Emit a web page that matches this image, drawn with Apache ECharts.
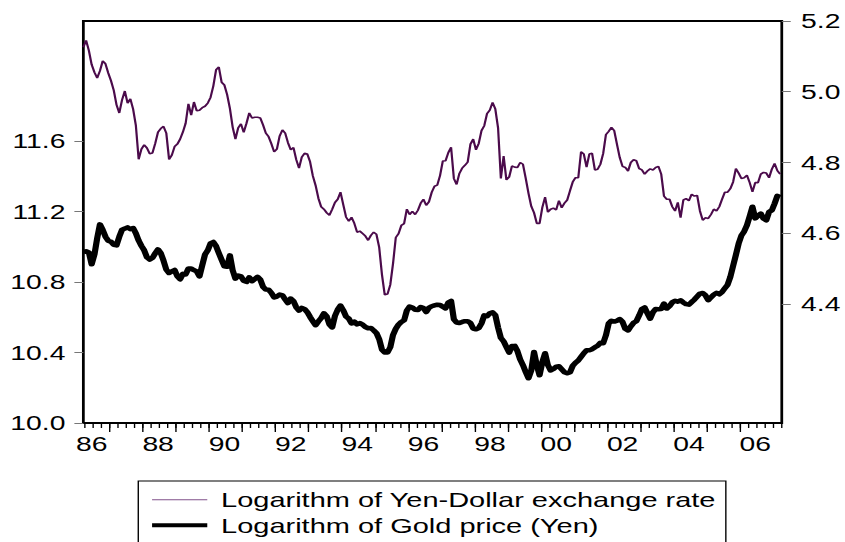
<!DOCTYPE html>
<html>
<head>
<meta charset="utf-8">
<script src="https://cdn.jsdelivr.net/npm/echarts@6/dist/echarts.min.js"></script>
<style>
  html, body { margin: 0; padding: 0; background: #fff; overflow: hidden; }
  /* the original picture is stretched sideways, so the chart is drawn narrow and widened */
  #chart { width: 612.3px; height: 542px; transform: scaleX(1.38); transform-origin: 0 0; }
</style>
</head>
<body>
<div id="chart"></div>
<script>
// monthly observations, first one is March 1986
var startYear = 1986;
var startMonth = 3;

var yenName = "Logarithm of Yen-Dollar exchange rate";
var goldName = "Logarithm of Gold price (Yen)";

var yenLog = [
  5.126, 5.145, 5.116, 5.077, 5.055, 5.039, 5.059, 5.087, 5.079, 5.053,
  5.031, 5.004, 4.963, 4.940, 4.977, 5.002, 4.968, 4.980, 4.951, 4.904,
  4.809, 4.838, 4.850, 4.841, 4.825, 4.827, 4.854, 4.886, 4.896, 4.902,
  4.883, 4.809, 4.821, 4.845, 4.852, 4.866, 4.886, 4.911, 4.966, 4.934,
  4.971, 4.946, 4.948, 4.955, 4.959, 4.968, 4.984, 5.016, 5.062, 5.070,
  5.027, 5.019, 4.992, 4.953, 4.900, 4.866, 4.898, 4.909, 4.885, 4.911,
  4.940, 4.926, 4.928, 4.928, 4.926, 4.906, 4.883, 4.873, 4.853, 4.830,
  4.838, 4.875, 4.892, 4.883, 4.856, 4.836, 4.842, 4.808, 4.784, 4.815,
  4.826, 4.824, 4.802, 4.762, 4.735, 4.699, 4.675, 4.668, 4.658, 4.651,
  4.668, 4.687, 4.696, 4.716, 4.681, 4.646, 4.634, 4.645, 4.628, 4.603,
  4.606, 4.599, 4.592, 4.580, 4.594, 4.603, 4.597, 4.560, 4.483, 4.426,
  4.428, 4.454, 4.514, 4.588, 4.599, 4.622, 4.627, 4.668, 4.653, 4.662,
  4.653, 4.665, 4.685, 4.696, 4.679, 4.689, 4.716, 4.733, 4.736, 4.763,
  4.804, 4.805, 4.828, 4.843, 4.755, 4.738, 4.769, 4.784, 4.792, 4.801,
  4.852, 4.866, 4.836, 4.854, 4.890, 4.904, 4.938, 4.948, 4.970, 4.951,
  4.897, 4.755, 4.818, 4.751, 4.759, 4.790, 4.787, 4.786, 4.800, 4.795,
  4.755, 4.713, 4.676, 4.658, 4.628, 4.628, 4.673, 4.702, 4.660, 4.668,
  4.671, 4.666, 4.692, 4.672, 4.685, 4.694, 4.720, 4.745, 4.757, 4.757,
  4.830, 4.824, 4.787, 4.824, 4.826, 4.779, 4.781, 4.795, 4.825, 4.879,
  4.888, 4.899, 4.890, 4.851, 4.814, 4.789, 4.786, 4.776, 4.800, 4.808,
  4.805, 4.783, 4.779, 4.767, 4.776, 4.782, 4.779, 4.786, 4.789, 4.767,
  4.705, 4.696, 4.696, 4.675, 4.663, 4.687, 4.644, 4.694, 4.698, 4.692,
  4.710, 4.705, 4.707, 4.663, 4.637, 4.644, 4.642, 4.653, 4.668, 4.663,
  4.675, 4.696, 4.716, 4.716, 4.726, 4.745, 4.783, 4.770, 4.755, 4.757,
  4.764, 4.743, 4.717, 4.743, 4.743, 4.767, 4.772, 4.770, 4.757, 4.781,
  4.797, 4.777, 4.767
];

var goldLog = [
  10.969, 10.975, 10.969, 10.901, 10.956, 11.049, 11.128, 11.097, 11.058, 11.035,
  11.029, 11.012, 11.009, 11.058, 11.098, 11.104, 11.111, 11.101, 11.107, 11.077,
  11.036, 11.006, 10.981, 10.941, 10.928, 10.938, 10.964, 10.986, 10.965, 10.922,
  10.871, 10.852, 10.861, 10.869, 10.833, 10.816, 10.847, 10.844, 10.877, 10.877,
  10.868, 10.861, 10.833, 10.896, 10.957, 10.981, 11.020, 11.028, 11.005, 10.965,
  10.927, 10.890, 10.887, 10.952, 10.867, 10.820, 10.838, 10.833, 10.808, 10.801,
  10.827, 10.805, 10.818, 10.830, 10.814, 10.773, 10.758, 10.757, 10.739, 10.713,
  10.718, 10.730, 10.725, 10.702, 10.681, 10.707, 10.692, 10.657, 10.638, 10.654,
  10.647, 10.629, 10.602, 10.578, 10.555, 10.577, 10.596, 10.623, 10.606, 10.560,
  10.543, 10.608, 10.644, 10.667, 10.640, 10.605, 10.593, 10.565, 10.576, 10.560,
  10.567, 10.559, 10.545, 10.538, 10.539, 10.526, 10.511, 10.476, 10.417, 10.401,
  10.400, 10.430, 10.500, 10.535, 10.559, 10.574, 10.583, 10.639, 10.661, 10.656,
  10.643, 10.642, 10.659, 10.653, 10.630, 10.654, 10.663, 10.668, 10.672, 10.670,
  10.660, 10.651, 10.684, 10.693, 10.589, 10.571, 10.568, 10.574, 10.578, 10.578,
  10.568, 10.536, 10.532, 10.539, 10.566, 10.611, 10.606, 10.623, 10.628, 10.613,
  10.542, 10.483, 10.464, 10.432, 10.400, 10.437, 10.438, 10.408, 10.360, 10.328,
  10.289, 10.254, 10.298, 10.403, 10.328, 10.271, 10.346, 10.396, 10.329, 10.299,
  10.307, 10.320, 10.322, 10.305, 10.288, 10.282, 10.288, 10.325, 10.342, 10.355,
  10.375, 10.396, 10.413, 10.413, 10.419, 10.430, 10.439, 10.455, 10.453, 10.498,
  10.566, 10.581, 10.576, 10.581, 10.590, 10.574, 10.535, 10.526, 10.549, 10.569,
  10.578, 10.610, 10.647, 10.656, 10.623, 10.593, 10.629, 10.647, 10.646, 10.647,
  10.678, 10.650, 10.664, 10.685, 10.694, 10.689, 10.697, 10.684, 10.675, 10.672,
  10.687, 10.701, 10.718, 10.735, 10.738, 10.725, 10.697, 10.714, 10.729, 10.739,
  10.731, 10.744, 10.765, 10.785, 10.830, 10.892, 10.954, 11.019, 11.065, 11.088,
  11.123, 11.174, 11.228, 11.162, 11.178, 11.189, 11.161, 11.151, 11.198, 11.208,
  11.246, 11.290, 11.283
];

var goldTicks = [10.0, 10.4, 10.8, 11.2, 11.6];
var yenTicks = [4.4, 4.6, 4.8, 5.0, 5.2];
var labelYears = [1986, 1988, 1990, 1992, 1994, 1996, 1998, 2000, 2002, 2004, 2006];
var tickYears = [1987, 1988, 1989, 1990, 1991, 1992, 1993, 1994, 1995, 1996,
  1997, 1998, 1999, 2000, 2001, 2002, 2003, 2004, 2005, 2006];

var font = "Liberation Sans";
var xMin = startYear + (startMonth - 1) / 12;
var xMax = xMin + 252.6 / 12;

function toDated(values) {
  return values.map(function (v, i) {
    return [xMin + i / 12, v];
  });
}

// year boundaries sit half a month before each January point
var majorTicks = tickYears.map(function (y) { return y - 1 / 24; });
var minorTicks = [];
for (var q = 1986 - 1 / 24 + 0.25; q < xMax; q += 0.25) minorTicks.push(q);
var labelPos = labelYears.map(function (y) { return y + 0.42; });

var myChart = echarts.init(document.getElementById("chart"), null, { renderer: "svg" });

var option = {
  animation: false,
  backgroundColor: "#fff",
  grid: {
    left: 60.4,
    right: 43.5,
    top: 21,
    bottom: 119,
    show: true,
    borderColor: "#000",
    borderWidth: 2,
    backgroundColor: "#fff"
  },
  legend: {
    orient: "vertical",
    left: 100.2,
    top: 481,
    height: 90,
    padding: [6, 7, 12, 10],
    itemGap: 0,
    itemWidth: 40,
    itemHeight: 14,
    symbolKeepAspect: true,
    borderColor: "#000",
    borderWidth: 1,
    backgroundColor: "#fff",
    textStyle: {
      fontFamily: font,
      fontSize: 21,
      color: "#000",
      lineHeight: 25.5,
      padding: [0, 0, 0, 5]
    },
    data: [
      { name: yenName, icon: "path://M0,0H40V1.2H0Z", itemStyle: { color: "#80508a" } },
      { name: goldName, icon: "path://M0,0H40V4H0Z", itemStyle: { color: "#000" } }
    ]
  },
  xAxis: [
    {
      type: "value",
      min: xMin,
      max: xMax,
      position: "bottom",
      axisLine: { show: false },
      splitLine: { show: false },
      axisTick: {
        show: true,
        customValues: majorTicks,
        length: 9,
        lineStyle: { color: "#000", width: 1 }
      },
      axisLabel: {
        customValues: labelPos,
        margin: 10,
        fontFamily: font,
        fontSize: 20.5,
        color: "#000",
        formatter: function (v) {
          return String(Math.floor(v)).slice(2);
        }
      }
    },
    {
      type: "value",
      min: xMin,
      max: xMax,
      position: "bottom",
      axisLine: { show: false },
      splitLine: { show: false },
      axisLabel: { show: false },
      axisTick: {
        show: true,
        customValues: minorTicks,
        length: 5,
        lineStyle: { color: "#000", width: 1 }
      }
    }
  ],
  yAxis: [
    {
      type: "value",
      position: "left",
      min: 10.0,
      max: 12.283,
      axisLine: { show: false },
      splitLine: { show: false },
      axisTick: {
        show: true,
        customValues: goldTicks,
        length: 6.5,
        lineStyle: { color: "#777", width: 1 }
      },
      axisLabel: {
        customValues: goldTicks,
        margin: 13,
        fontFamily: font,
        fontSize: 20.5,
        color: "#000",
        formatter: function (v) { return v.toFixed(1); }
      }
    },
    {
      type: "value",
      position: "right",
      min: 4.0636,
      max: 5.2,
      axisLine: { show: false },
      splitLine: { show: false },
      axisTick: {
        show: true,
        customValues: yenTicks,
        length: 6.5,
        lineStyle: { color: "#777", width: 1 }
      },
      axisLabel: {
        customValues: yenTicks,
        margin: 14,
        fontFamily: font,
        fontSize: 20.5,
        color: "#000",
        formatter: function (v) { return v.toFixed(1); }
      }
    }
  ],
  series: [
    {
      name: yenName,
      type: "line",
      xAxisIndex: 0,
      yAxisIndex: 1,
      symbol: "none",
      data: toDated(yenLog),
      lineStyle: { color: "#4b0b4b", width: 1.6 },
      itemStyle: { color: "#4b0b4b" },
      z: 3
    },
    {
      name: goldName,
      type: "line",
      xAxisIndex: 0,
      yAxisIndex: 0,
      symbol: "none",
      data: toDated(goldLog),
      lineStyle: { color: "#000", width: 4.5, join: "round" },
      itemStyle: { color: "#000" },
      z: 2
    }
  ]
};

myChart.setOption(option);
</script>
</body>
</html>
